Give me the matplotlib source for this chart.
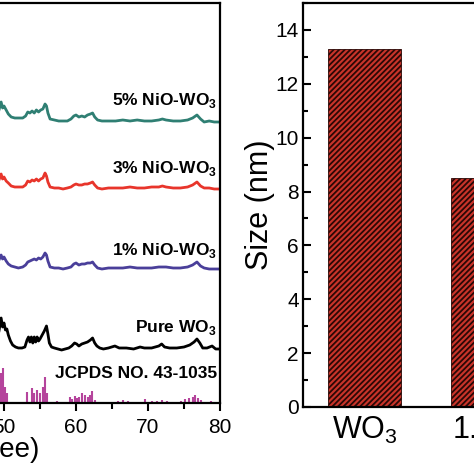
import matplotlib
matplotlib.use("Agg")
import matplotlib.pyplot as plt
from matplotlib.ticker import MultipleLocator

plt.rcParams['font.family'] = ['Liberation Sans', 'DejaVu Sans']
plt.rcParams['mathtext.fontset'] = 'custom'
plt.rcParams['mathtext.rm'] = 'Liberation Sans'
plt.rcParams['mathtext.bf'] = 'Liberation Sans:bold'
plt.rcParams['hatch.linewidth'] = 1.3

# ---------------- data: XRD patterns (2theta, intensity a.u.) ----------------
tt_pure = [47.0, 47.5, 48.0, 48.5, 49.0, 49.3, 49.6, 49.8, 50.0, 50.2, 50.4, 50.6, 50.9, 51.2,
           51.6, 52.0, 52.5, 52.9, 53.2, 53.4, 53.6, 53.8, 54.0, 54.2, 54.4, 54.6, 54.8, 55.0,
           55.3, 55.6, 55.9, 56.1, 56.3, 56.6, 57.0, 57.5, 58.0, 58.5, 59.0, 59.4, 59.8, 60.1,
           60.4, 60.8, 61.2, 61.6, 62.0, 62.3, 62.6, 62.9, 63.3, 63.8, 64.5, 65.4, 66.0, 67.0,
           68.0, 68.9, 69.5, 70.5, 71.5, 71.9, 72.3, 73.0, 74.0, 75.0, 75.8, 76.4, 76.8, 77.2,
           77.6, 78.2, 78.9, 79.4, 80.0]
int_pure = [3, 4, 5, 8, 12, 18, 31, 22, 26, 19, 20, 14, 8, 4,
            2, 1, 1, 2, 9, 12, 7, 12, 6, 12, 7, 12, 8, 10,
            14, 18, 23, 15, 6, 2, 1, 0, -1, 0, 1, 3, 6, 5,
            3, 5, 6, 7, 9, 11, 6, 3, 1, 0, 1, 3, 1, 1,
            0, 2, 1, 1, 3, 5, 2, 1, 1, 2, 4, 7, 10, 6,
            1, 1, 3, 0, 0]

tt_dop = [47.0, 48.0, 48.8, 49.3, 49.6, 49.8, 50.0, 50.3, 50.6, 51.0, 51.5, 52.0, 52.6, 53.0,
          53.3, 53.6, 53.9, 54.2, 54.5, 54.8, 55.1, 55.4, 55.7, 55.9, 56.1, 56.4, 57.0, 57.6,
          58.2, 58.8, 59.3, 59.7, 60.0, 60.4, 60.8, 61.2, 61.6, 62.0, 62.3, 62.6, 63.0, 63.6,
          64.5, 65.5, 66.5, 67.5, 68.5, 69.5, 70.5, 71.5, 72.0, 72.5, 73.5, 74.5, 75.5, 76.2,
          76.8, 77.3, 77.8, 78.5, 79.2, 80.0]
int_1 = [4, 5, 6, 9, 14, 10, 12, 8, 5, 3, 2, 1, 2, 4,
         7, 8, 9, 10, 9, 11, 10, 12, 16, 14, 8, 2, 1, 1,
         0, 1, 2, 5, 6, 4, 5, 5, 6, 6, 7, 4, 1, 0,
         1, 1, 1, 2, 1, 1, 1, 2, 2, 2, 1, 1, 2, 4,
         7, 3, 1, 0, 0, 0]
int_3 = [4, 5, 6, 9, 15, 10, 12, 8, 6, 3, 2, 2, 2, 4,
         8, 7, 9, 8, 10, 8, 10, 11, 16, 13, 7, 2, 1, 1,
         0, 1, 2, 4, 5, 4, 4, 5, 5, 6, 7, 4, 1, 0,
         1, 1, 1, 2, 1, 1, 2, 2, 3, 2, 1, 1, 2, 4,
         7, 3, 1, 1, 0, 0]
int_5 = [5, 6, 8, 12, 20, 14, 16, 12, 8, 5, 4, 4, 4, 6,
         10, 9, 11, 9, 12, 10, 12, 13, 18, 16, 9, 3, 2, 1,
         1, 1, 3, 6, 7, 5, 6, 5, 7, 8, 9, 5, 2, 1,
         1, 1, 2, 1, 2, 1, 1, 2, 3, 2, 1, 1, 2, 4,
         7, 3, 0, 1, 0, 0]

# JCPDS 43-1035 reference lines
jcpds_tt = [49.6, 49.9, 50.1, 50.4, 53.2, 53.9, 54.1, 54.6, 55.0, 55.4, 55.7, 56.0, 57.4,
            59.2, 59.5, 59.8, 60.1, 60.4, 60.8, 61.2, 61.6, 62.0, 62.2, 62.6, 65.8, 66.5,
            67.2, 69.6, 70.5, 71.3, 72.0, 72.6, 74.6, 75.2, 75.7, 76.2, 76.5, 76.9, 77.3, 78.8]
jcpds_int = [30, 35, 16, 10, 11, 15, 10, 13, 10, 16, 26, 10, 2,
             6, 4, 7, 5, 6, 10, 8, 6, 8, 12, 3, 2, 3,
             2, 4, 2, 2, 3, 2, 2, 4, 5, 6, 8, 5, 3, 2]

series_labels = ["JCPDS NO. 43-1035", "Pure WO$_\\mathbf{3}$", "1% NiO-WO$_\\mathbf{3}$",
                 "3% NiO-WO$_\\mathbf{3}$", "5% NiO-WO$_\\mathbf{3}$"]
xrd_xticks = [50, 60, 70, 80]

# ---------------- data: crystallite size ----------------
size_cats = ["WO$_3$", "1.0%"]
size_vals = [13.3, 8.5]

# ---------------- figure ----------------
W = H = 474.0
fig = plt.figure(figsize=(4.74, 4.74), dpi=100)

# Left panel (XRD), extends beyond the left edge of the figure
ax1 = fig.add_axes([-284 / W, (H - 403) / H, 504 / W, 400 / H])
offsets = [0, 54, 134, 214, 281]
colors = ['#b5449c', '#000000', '#4a3f9a', '#e8352b', '#2f7f73']

ax1.vlines(jcpds_tt, offsets[0], [offsets[0] + v for v in jcpds_int], color=colors[0], lw=1.5)
for tt, inten, off, col in [(tt_pure, int_pure, offsets[1], colors[1]),
                            (tt_dop, int_1, offsets[2], colors[2]),
                            (tt_dop, int_3, offsets[3], colors[3]),
                            (tt_dop, int_5, offsets[4], colors[4])]:
    ax1.plot(tt, [off + v for v in inten], color=col, lw=2.0, solid_joinstyle='round')

label_y = [25, 71, 148, 230, 298]
for lab, ly in zip(series_labels, label_y):
    ax1.text(79.6, ly, lab, ha='right', va='baseline', fontsize=12.5, fontweight='bold')

ax1.set_xlim(10, 80)
ax1.set_ylim(0, 400)
ax1.set_xticks(xrd_xticks)
ax1.xaxis.set_minor_locator(MultipleLocator(5))
ax1.set_yticks([])
ax1.tick_params(axis='x', which='major', direction='out', length=6, width=1.5,
                labelsize=15, pad=5)
ax1.tick_params(axis='x', which='minor', direction='out', length=4, width=1.5)
ax1.set_xlabel("2θ (degree)", fontsize=20)
ax1.xaxis.set_label_coords(0.5, -0.085)
for s in ax1.spines.values():
    s.set_linewidth(1.6)

# Right panel (size bar chart), extends beyond the right edge
ax2 = fig.add_axes([303 / W, (H - 407) / H, 246 / W, 404 / H])
xpos = list(range(len(size_vals)))
ax2.bar(xpos, size_vals, width=0.6, color='#c9342a', edgecolor='#2a0806',
        hatch='//////', linewidth=0.6)
ax2.set_xlim(-0.5, 1.5)
ax2.set_ylim(0, 15)
ax2.set_xticks(xpos)
ax2.set_xticklabels(size_cats, fontsize=22)
ax2.yaxis.set_major_locator(MultipleLocator(2))
ax2.yaxis.set_minor_locator(MultipleLocator(1))
ax2.tick_params(axis='y', which='major', direction='in', length=6, width=1.5,
                labelsize=15, pad=3)
ax2.tick_params(axis='y', which='minor', direction='in', length=3.5, width=1.5)
ax2.tick_params(axis='x', length=0, pad=6)
ax2.text(-0.175, 0.5, "Size (nm)", transform=ax2.transAxes, rotation=90,
         ha='center', va='center', fontsize=22)
for s in ax2.spines.values():
    s.set_linewidth(1.6)

fig.savefig("out.png", dpi=100)
